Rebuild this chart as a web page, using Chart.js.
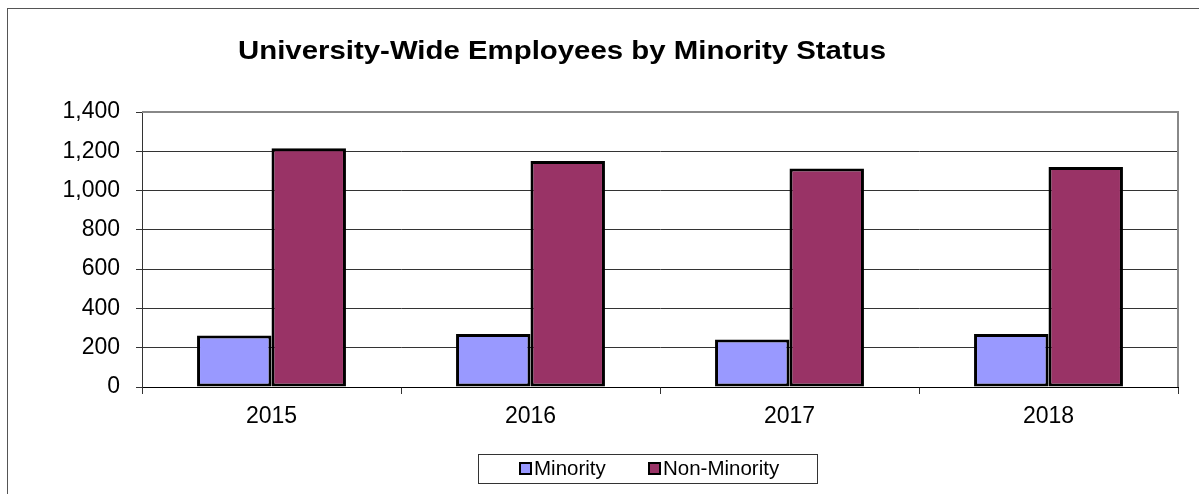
<!DOCTYPE html>
<html>
<head>
<meta charset="utf-8">
<script src="https://cdn.jsdelivr.net/npm/chart.js@4/dist/chart.umd.min.js"></script>
<style>
  html, body { margin: 0; padding: 0; background: #fff; }
  #wrap { position: relative; width: 1199px; height: 494px; overflow: hidden; }
  #frame { position: absolute; left: 7px; top: 8px; width: 1300px; height: 600px; border: 1px solid #555; }
  #chart { position: absolute; left: 0; top: 0; }
</style>
</head>
<body>
<div id="wrap">
  <div id="frame"></div>
  <canvas id="chart" width="1199" height="494"></canvas>
</div>
<script>
var chartTitle = 'University-Wide Employees by Minority Status';
var years = ['2015', '2016', '2017', '2018'];
var seriesNames = ['Minority', 'Non-Minority'];
var minority = [262, 270, 242, 270];
var nonMinority = [1215, 1151, 1112, 1120];
var yTicks = [0, 200, 400, 600, 800, 1000, 1200, 1400];

var fontFamily = 'Arial, "Liberation Sans", sans-serif';
Chart.defaults.font.family = fontFamily;
Chart.defaults.color = '#000';

// title, legend box and plot frame are drawn by hand (positions are off-center in the original)
var decorPlugin = {
	id: 'decor',
	afterDraw: function(chart) {
		var ctx = chart.ctx;
		var area = chart.chartArea;
		ctx.save();

		// plot area top/right frame
		ctx.strokeStyle = '#888';
		ctx.lineWidth = 2;
		ctx.beginPath();
		ctx.moveTo(area.left, area.top);
		ctx.lineTo(area.right, area.top);
		ctx.lineTo(area.right, area.bottom);
		ctx.stroke();

		// title (original is stretched sideways, so squeeze it to the same width)
		ctx.fillStyle = '#000';
		ctx.font = 'bold 26px ' + fontFamily;
		ctx.textAlign = 'center';
		ctx.textBaseline = 'alphabetic';
		var sx = 648 / ctx.measureText(chartTitle).width;
		ctx.save();
		ctx.translate(562, 59);
		ctx.scale(sx, 1);
		ctx.fillText(chartTitle, 0, 0);
		ctx.restore();

		// legend
		var lx = 478, ly = 454, lw = 339, lh = 29;
		ctx.strokeStyle = '#333';
		ctx.lineWidth = 1;
		ctx.strokeRect(lx + 0.5, ly + 0.5, lw, lh);
		var items = [{x: 520}, {x: 649}];
		ctx.font = '20.5px ' + fontFamily;
		ctx.textAlign = 'left';
		ctx.textBaseline = 'middle';
		chart.data.datasets.forEach(function(ds, i) {
			var bx = items[i].x;
			ctx.fillStyle = ds.backgroundColor;
			ctx.fillRect(bx, ly + 9, 11, 11);
			ctx.strokeStyle = '#000';
			ctx.lineWidth = 2;
			ctx.strokeRect(bx, ly + 9, 11, 11);
			ctx.fillStyle = '#000';
			ctx.fillText(ds.label, bx + 14, ly + 15);
		});
		ctx.restore();
	}
};

var ctx = document.getElementById('chart').getContext('2d');
window.myBar = new Chart(ctx, {
	type: 'bar',
	data: {
		labels: years,
		datasets: [{
			label: seriesNames[0],
			data: minority,
			backgroundColor: '#9999FF',
			borderColor: '#000',
			borderWidth: 3,
			borderSkipped: false
		}, {
			label: seriesNames[1],
			data: nonMinority,
			backgroundColor: '#993366',
			borderColor: '#000',
			borderWidth: 3,
			borderSkipped: false
		}]
	},
	options: {
		responsive: false,
		animation: false,
		events: [],
		categoryPercentage: 0.575,
		barPercentage: 1.0,
		layout: {
			padding: { left: 0, top: 112, right: 21, bottom: 0 }
		},
		plugins: {
			legend: { display: false },
			title: { display: false },
			tooltip: { enabled: false }
		},
		scales: {
			x: {
				grid: {
					offset: true,
					drawOnChartArea: false,
					drawTicks: true,
					tickLength: 7,
					color: '#333'
				},
				border: { color: '#000', width: 1 },
				ticks: {
					font: { size: 23 },
					color: '#000',
					padding: 9
				},
				afterFit: function(scale) { scale.height = 107; }
			},
			y: {
				min: 0,
				max: 1400,
				afterBuildTicks: function(scale) {
					scale.ticks = yTicks.map(function(v) { return { value: v }; });
				},
				grid: {
					color: function(c) { return c.tick && c.tick.value === 1400 ? '#888' : '#333'; },
					tickLength: 6,
					tickColor: '#333'
				},
				border: { color: '#333', width: 1 },
				ticks: {
					font: { size: 23 },
					color: '#000',
					padding: 16,
					callback: function(v) { return v.toLocaleString('en-US'); }
				},
				afterFit: function(scale) { scale.width = 142; }
			}
		}
	},
	plugins: [decorPlugin]
});
</script>
</body>
</html>
